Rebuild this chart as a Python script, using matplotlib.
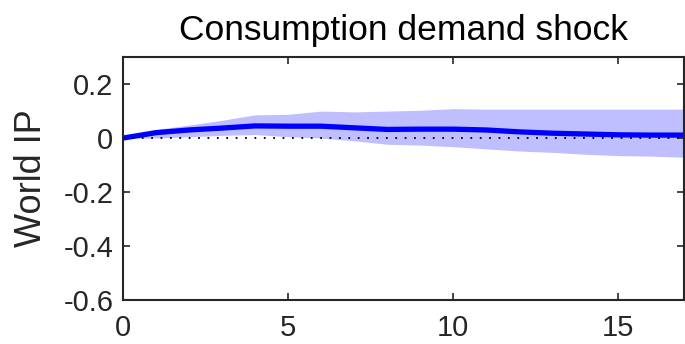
import matplotlib
matplotlib.use('Agg')
import matplotlib.pyplot as plt

# impulse response horizon
horizon = list(range(18))
response = [0.0, 0.02, 0.03, 0.037, 0.045, 0.044, 0.044, 0.038, 0.032, 0.033,
            0.033, 0.03, 0.023, 0.018, 0.015, 0.012, 0.011, 0.011]
upper = [0.0, 0.032, 0.048, 0.066, 0.086, 0.088, 0.1, 0.097, 0.1, 0.103,
         0.109, 0.107, 0.107, 0.107, 0.107, 0.107, 0.107, 0.107]
lower = [0.0, 0.0, 0.005, 0.01, 0.013, 0.005, 0.0, -0.01, -0.023, -0.026,
         -0.032, -0.04, -0.048, -0.053, -0.06, -0.065, -0.067, -0.071]

xticks = [0, 5, 10, 15]
yticks = [-0.6, -0.4, -0.2, 0, 0.2]
ytick_labels = ['-0.6', '-0.4', '-0.2', '0', '0.2']

plt.rcParams['font.family'] = ['Liberation Sans', 'DejaVu Sans']

fig = plt.figure(figsize=(6.85, 3.44), dpi=100)
ax = fig.add_axes([0.1796, 0.128, 0.819, 0.706])

ax.fill_between(horizon, lower, upper, color='#bfbfff', linewidth=0)
ax.plot(horizon, response, color='#0000ff', linewidth=3.8, solid_joinstyle='round')
ax.axhline(0, color='black', linestyle=(0, (1, 4.2)), linewidth=1.3)

ax.set_xlim(0, 17)
ax.set_ylim(-0.6, 0.3)
ax.set_xticks(xticks)
ax.set_yticks(yticks)
ax.set_yticklabels(ytick_labels)
ax.tick_params(direction='in', top=True, right=True, length=5, width=1.2,
               labelsize=21, color='#262626', labelcolor='#262626')
ax.tick_params(axis='y', pad=7)
ax.tick_params(axis='x', pad=10)
for s in ax.spines.values():
    s.set_linewidth(1.5)
    s.set_color('#262626')

ax.set_ylabel('World IP', fontsize=26, color='#262626', labelpad=10)
ax.set_title('Consumption demand shock', fontsize=25.5, pad=12)

fig.savefig('out.png', dpi=100)
